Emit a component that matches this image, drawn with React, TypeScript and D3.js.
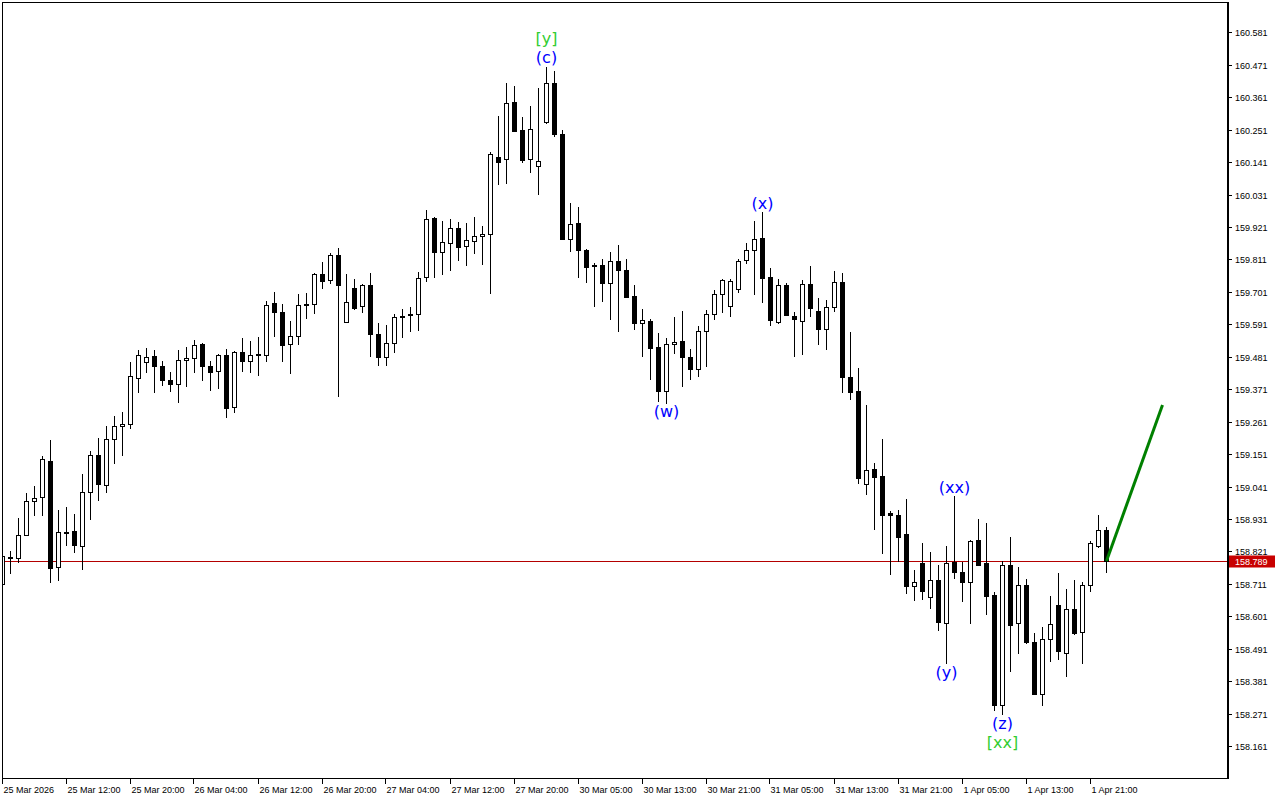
import React from "react";
import * as d3 from "d3";

// ---------- DATA (USDJPY-like H1 candles) ----------
const opens = [
  158.710, 158.803, 158.798, 158.876, 158.991, 159.005, 159.127, 158.768, 158.884, 158.891,
  158.839, 159.023, 159.148, 159.046, 159.202, 159.246, 159.252, 159.409, 159.464, 159.484,
  159.450, 159.403, 159.388, 159.469, 159.477, 159.525, 159.450, 159.432, 159.487, 159.310,
  159.496, 159.466, 159.486, 159.486, 159.663, 159.633, 159.524, 159.551, 159.656, 159.659,
  159.762, 159.741, 159.825, 159.598, 159.713, 159.652, 159.724, 159.557, 159.479, 159.527,
  159.619, 159.622, 159.625, 159.751, 159.951, 159.838, 159.866, 159.917, 159.856, 159.873,
  159.890, 159.897, 160.159, 160.151, 160.345, 160.250, 160.151, 160.129, 160.278, 160.408,
  160.235, 159.882, 159.934, 159.842, 159.792, 159.791, 159.730, 159.806, 159.775, 159.686,
  159.597, 159.602, 159.514, 159.366, 159.524, 159.534, 159.479, 159.441, 159.568, 159.625,
  159.693, 159.652, 159.710, 159.808, 159.842, 159.883, 159.751, 159.600, 159.724, 159.619,
  159.602, 159.727, 159.635, 159.574, 159.649, 159.734, 159.412, 159.364, 159.049, 159.100,
  159.076, 158.951, 158.944, 158.880, 158.703, 158.781, 158.666, 158.724, 158.580, 158.786,
  158.751, 158.719, 158.860, 158.782, 158.674, 158.299, 158.775, 158.578, 158.707, 158.514,
  158.339, 158.524, 158.639, 158.478, 158.626, 158.547, 158.707, 158.841, 158.893,
];
const highs = [
  158.806, 158.823, 158.935, 159.020, 159.043, 159.145, 159.199, 158.960, 158.971, 158.948,
  159.084, 159.162, 159.206, 159.247, 159.281, 159.294, 159.464, 159.504, 159.511, 159.504,
  159.468, 159.430, 159.504, 159.514, 159.539, 159.528, 159.468, 159.491, 159.508, 159.501,
  159.545, 159.535, 159.548, 159.669, 159.701, 159.660, 159.603, 159.694, 159.698, 159.766,
  159.803, 159.832, 159.849, 159.761, 159.744, 159.728, 159.765, 159.595, 159.588, 159.626,
  159.643, 159.650, 159.769, 159.979, 159.955, 159.942, 159.948, 159.938, 159.935, 159.955,
  159.925, 160.174, 160.298, 160.410, 160.399, 160.294, 160.331, 160.392, 160.464, 160.450,
  160.250, 160.002, 159.988, 159.846, 159.798, 159.813, 159.836, 159.859, 159.813, 159.724,
  159.642, 159.609, 159.561, 159.544, 159.616, 159.636, 159.507, 159.586, 159.640, 159.708,
  159.745, 159.745, 159.812, 159.866, 159.942, 159.972, 159.781, 159.745, 159.730, 159.633,
  159.742, 159.788, 159.681, 159.674, 159.772, 159.764, 159.565, 159.442, 159.317, 159.120,
  159.202, 158.958, 158.962, 158.999, 158.759, 158.850, 158.819, 158.774, 158.840, 159.009,
  158.787, 158.860, 158.931, 158.919, 158.683, 158.789, 158.870, 158.768, 158.728, 158.544,
  158.566, 158.670, 158.747, 158.694, 158.725, 158.717, 158.857, 158.943, 158.905,
];
const lows = [
  158.705, 158.749, 158.787, 158.876, 158.946, 158.943, 158.719, 158.724, 158.844, 158.819,
  158.760, 158.932, 158.995, 159.021, 159.120, 159.147, 159.238, 159.362, 159.430, 159.362,
  159.385, 159.366, 159.329, 159.383, 159.431, 159.404, 159.370, 159.374, 159.278, 159.295,
  159.434, 159.431, 159.421, 159.468, 159.553, 159.468, 159.427, 159.524, 159.614, 159.629,
  159.715, 159.730, 159.349, 159.598, 159.643, 159.632, 159.485, 159.454, 159.452, 159.498,
  159.549, 159.570, 159.573, 159.737, 159.753, 159.763, 159.775, 159.809, 159.793, 159.834,
  159.797, 159.699, 160.068, 160.071, 160.248, 160.143, 160.109, 160.034, 160.275, 160.231,
  159.882, 159.841, 159.753, 159.736, 159.654, 159.671, 159.610, 159.570, 159.683, 159.574,
  159.485, 159.407, 159.332, 159.326, 159.494, 159.383, 159.406, 159.417, 159.451, 159.610,
  159.634, 159.621, 159.702, 159.798, 159.695, 159.666, 159.590, 159.595, 159.622, 159.483,
  159.491, 159.621, 159.524, 159.509, 159.635, 159.361, 159.339, 159.052, 159.017, 158.896,
  158.817, 158.744, 158.789, 158.680, 158.656, 158.661, 158.629, 158.556, 158.442, 158.730,
  158.654, 158.580, 158.776, 158.610, 158.284, 158.269, 158.417, 158.478, 158.510, 158.339,
  158.299, 158.451, 158.458, 158.400, 158.541, 158.444, 158.688, 158.836, 158.751,
];
const closes = [
  158.804, 158.798, 158.876, 158.992, 159.002, 159.134, 158.766, 158.886, 158.886, 158.844,
  159.023, 159.148, 159.049, 159.202, 159.247, 159.253, 159.416, 159.487, 159.481, 159.450,
  159.402, 159.388, 159.470, 159.477, 159.520, 159.451, 159.431, 159.486, 159.309, 159.498,
  159.466, 159.486, 159.490, 159.656, 159.632, 159.522, 159.551, 159.656, 159.659, 159.762,
  159.739, 159.825, 159.724, 159.666, 159.648, 159.724, 159.557, 159.479, 159.527, 159.615,
  159.615, 159.626, 159.747, 159.947, 159.838, 159.869, 159.917, 159.854, 159.876, 159.890,
  159.898, 160.168, 160.143, 160.341, 160.248, 160.148, 160.252, 160.144, 160.408, 160.235,
  159.882, 159.931, 159.844, 159.787, 159.788, 159.730, 159.806, 159.774, 159.685, 159.597,
  159.605, 159.512, 159.366, 159.524, 159.530, 159.481, 159.441, 159.568, 159.625, 159.693,
  159.742, 159.737, 159.806, 159.842, 159.880, 159.749, 159.605, 159.724, 159.622, 159.610,
  159.727, 159.646, 159.576, 159.649, 159.734, 159.414, 159.363, 159.071, 159.097, 159.075,
  158.946, 158.943, 158.871, 158.705, 158.717, 158.688, 158.724, 158.583, 158.781, 158.751,
  158.719, 158.856, 158.776, 158.671, 158.299, 158.774, 158.573, 158.707, 158.514, 158.339,
  158.524, 158.574, 158.482, 158.626, 158.545, 158.707, 158.850, 158.893, 158.789,
];

const timeLabels = [
  "25 Mar 2026", "25 Mar 12:00", "25 Mar 20:00", "26 Mar 04:00", "26 Mar 12:00", "26 Mar 20:00",
  "27 Mar 04:00", "27 Mar 12:00", "27 Mar 20:00", "30 Mar 05:00", "30 Mar 13:00", "30 Mar 21:00",
  "31 Mar 05:00", "31 Mar 13:00", "31 Mar 21:00", "1 Apr 05:00", "1 Apr 13:00", "1 Apr 21:00",
];
const timeLabelBars = [0, 8, 16, 24, 32, 40, 48, 56, 64, 72, 80, 88, 96, 104, 112, 120, 128, 136];

const priceTicks = [
  160.581, 160.471, 160.361, 160.251, 160.141, 160.031, 159.921, 159.811, 159.701, 159.591,
  159.481, 159.371, 159.261, 159.151, 159.041, 158.931, 158.821, 158.711, 158.601, 158.491,
  158.381, 158.271, 158.161,
];
const currentPrice = 158.789;
const priceDomain = [158.053, 160.684];
const barDomain = [0, 153];

const projectionBars = [138, 145];
const projectionPrices = [158.789, 159.318];

const waveTexts = ["[y]", "(c)", "(w)", "(x)", "(y)", "(xx)", "(z)", "[xx]"];
const waveBars = [68, 68, 83, 95, 118, 119, 125, 125];
const waveAnchor = ["high", "high", "low", "high", "low", "high", "low", "low"];
const waveDegree = ["major", "minor", "minor", "minor", "minor", "minor", "minor", "major"];

// ---------- STYLE ----------
const W = 1280;
const H = 800;
const plotLeft = 2;
const plotRight = 1227;
const plotTop = 2;
const plotBottom = 778;
const axisFont = "'Liberation Sans', Arial, sans-serif";
const waveFont = "'DejaVu Sans', Verdana, sans-serif";
const waveOffsets = { major: 28, minor: 9 };
const waveColors = { major: "#32cd32", minor: "#0000ff" };

export default function App() {
  const x = d3.scaleLinear().domain(barDomain).range([plotLeft + 0.5, plotLeft + 0.5 + 8 * (barDomain[1] - barDomain[0])]);
  const y = d3.scaleLinear().domain(priceDomain).range([plotBottom, plotTop]);

  const candles = opens.map((o, i) => {
    const c = closes[i];
    const cx = Math.round(x(i) - 0.5) + 0.5;
    const yo = y(o);
    const yc = y(c);
    const top = Math.round(Math.min(yo, yc));
    const bot = Math.round(Math.max(yo, yc));
    const yh = Math.round(y(highs[i]));
    const yl = Math.round(y(lows[i]));
    const bull = c >= o;
    return (
      <g key={i}>
        <line x1={cx} x2={cx} y1={yh} y2={yl + 1} stroke="#000" strokeWidth={1} />
        {bot - top < 1 ? (
          <line x1={cx - 2.5} x2={cx + 2.5} y1={top + 0.5} y2={top + 0.5} stroke="#000" strokeWidth={1} />
        ) : bull ? (
          <rect x={cx - 2} y={top + 0.5} width={4} height={bot - top} fill="#fff" stroke="#000" strokeWidth={1} />
        ) : (
          <rect x={cx - 2.5} y={top} width={5} height={bot - top + 1} fill="#000" />
        )}
      </g>
    );
  });

  const cpY = Math.round(y(currentPrice)) + 0.5;

  return (
    <svg
      width={W}
      height={H}
      style={{ position: "fixed", left: 0, top: 0, background: "#fff", display: "block" }}
    >
      <defs>
        <clipPath id="plotClip">
          <rect x={plotLeft + 1} y={plotTop + 1} width={plotRight - plotLeft - 1} height={plotBottom - plotTop - 1} />
        </clipPath>
      </defs>
      <rect x={0} y={0} width={W} height={H} fill="#fff" />

      <g clipPath="url(#plotClip)">
        <line x1={plotLeft} x2={plotRight} y1={cpY} y2={cpY} stroke="#b40000" strokeWidth={1} />
        {candles}
        <line
          x1={x(projectionBars[0])}
          y1={y(projectionPrices[0])}
          x2={x(projectionBars[1])}
          y2={y(projectionPrices[1])}
          stroke="#008000"
          strokeWidth={3}
        />
        {waveTexts.map((t, i) => {
          const bar = waveBars[i];
          const deg = waveDegree[i];
          const isHigh = waveAnchor[i] === "high";
          const base = isHigh ? y(highs[bar]) : y(lows[bar]);
          const off = waveOffsets[deg];
          const cy = isHigh ? base - off : base + off;
          return (
            <text
              key={i}
              x={x(bar)}
              y={cy}
              textAnchor="middle"
              dominantBaseline="central"
              fontFamily={waveFont}
              fontSize={16}
              fill={waveColors[deg]}
            >
              {t}
            </text>
          );
        })}
      </g>

      {/* frame */}
      <rect x={plotLeft + 0.5} y={plotTop + 0.5} width={plotRight - plotLeft} height={plotBottom - plotTop} fill="none" stroke="#000" strokeWidth={1} />
      <rect x={plotRight} y={plotTop} width={2} height={plotBottom - plotTop + 1} fill="#000" />

      {/* price axis */}
      {priceTicks.map((p) => {
        const yy = Math.round(y(p)) + 0.5;
        return (
          <g key={p}>
            <line x1={plotRight + 2} x2={plotRight + 5} y1={yy} y2={yy} stroke="#000" />
            <text x={plotRight + 8} y={yy + 3.5} fontFamily={axisFont} fontSize={9} fill="#000">
              {p.toFixed(3)}
            </text>
          </g>
        );
      })}
      <rect x={plotRight + 2} y={cpY - 6} width={46} height={12} fill="#c80000" />
      <text x={plotRight + 8} y={cpY + 3.5} fontFamily={axisFont} fontSize={9} fill="#fff">
        {currentPrice.toFixed(3)}
      </text>

      {/* time axis */}
      {timeLabels.map((t, i) => {
        const tx = Math.round(x(timeLabelBars[i])) - 1 + 0.5;
        return (
          <g key={t}>
            <line x1={tx} x2={tx} y1={plotBottom} y2={plotBottom + 6} stroke="#000" />
            <text x={tx + 1} y={plotBottom + 15} fontFamily={axisFont} fontSize={9} fill="#000">
              {t}
            </text>
          </g>
        );
      })}
    </svg>
  );
}
